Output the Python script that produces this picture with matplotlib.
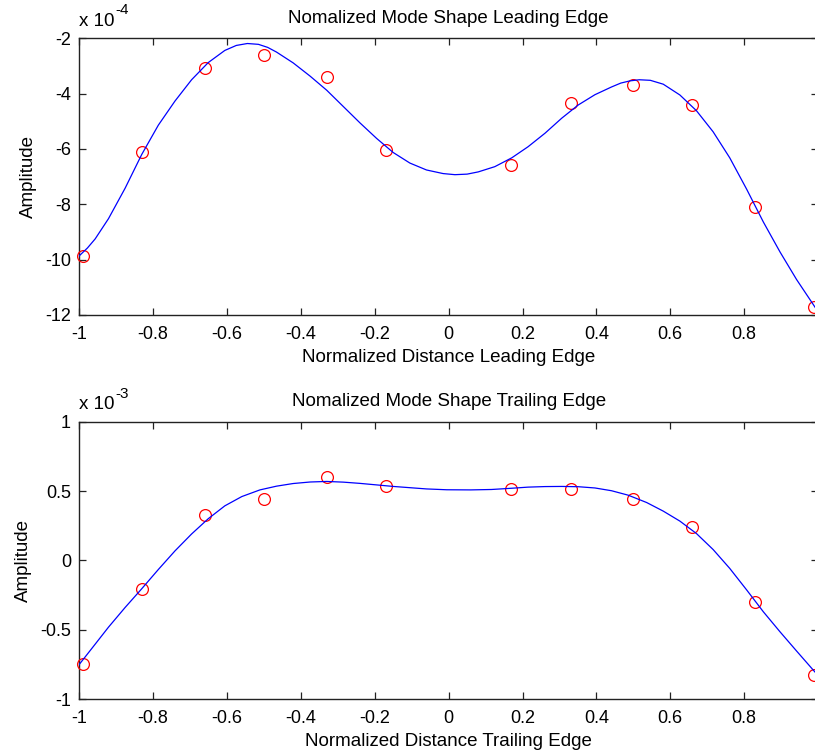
import numpy as np
import matplotlib
matplotlib.use("Agg")
import matplotlib.pyplot as plt
from matplotlib.ticker import FuncFormatter

plt.rcParams["font.family"] = ["Liberation Sans", "DejaVu Sans"]
plt.rcParams["axes.unicode_minus"] = False

# measured nodes (normalized position along the edge)
node_x = [-0.99, -0.83, -0.66, -0.5, -0.33, -0.17, 0.17, 0.33, 0.5, 0.66, 0.83, 0.99]

# leading edge amplitudes, x 1e-4
lead_amp = [-9.87, -6.12, -3.08, -2.60, -3.40, -6.05, -6.57, -4.35, -3.70, -4.41, -8.09, -11.72]
# trailing edge amplitudes, x 1e-3
trail_amp = [-0.748, -0.209, 0.324, 0.442, 0.601, 0.536, 0.516, 0.516, 0.440, 0.238, -0.303, -0.825]

# fitted mode shape curves
lead_fit_x = [-1.0, -0.978, -0.957, -0.921, -0.876, -0.831, -0.786, -0.741, -0.696, -0.651,
              -0.606, -0.575, -0.545, -0.515, -0.49, -0.466, -0.421, -0.375, -0.330, -0.285,
              -0.240, -0.195, -0.150, -0.105, -0.060, -0.015, 0.017, 0.050, 0.080, 0.125,
              0.171, 0.215, 0.261, 0.306, 0.351, 0.396, 0.441, 0.466, 0.491, 0.516,
              0.546, 0.581, 0.626, 0.671, 0.716, 0.761, 0.807, 0.852, 0.897, 0.942,
              0.987, 1.0]
lead_fit = [-9.86, -9.58, -9.25, -8.52, -7.42, -6.20, -5.14, -4.27, -3.50, -2.88,
            -2.44, -2.26, -2.19, -2.22, -2.33, -2.50, -2.89, -3.37, -3.88, -4.47,
            -5.06, -5.62, -6.13, -6.51, -6.76, -6.89, -6.93, -6.91, -6.83, -6.64,
            -6.32, -5.92, -5.43, -4.89, -4.41, -4.04, -3.76, -3.62, -3.54, -3.50,
            -3.52, -3.66, -4.05, -4.62, -5.38, -6.32, -7.46, -8.64, -9.72, -10.72,
            -11.62, -11.88]

trail_fit_x = [-1.0, -0.966, -0.921, -0.876, -0.831, -0.786, -0.741, -0.696, -0.651, -0.606,
               -0.560, -0.511, -0.466, -0.421, -0.375, -0.330, -0.285, -0.240, -0.195, -0.150,
               -0.105, -0.060, -0.005, 0.060, 0.116, 0.171, 0.215, 0.261, 0.306, 0.351,
               0.396, 0.441, 0.486, 0.536, 0.581, 0.626, 0.671, 0.716, 0.761, 0.807,
               0.852, 0.897, 0.942, 0.987, 1.0]
trail_fit = [-0.750, -0.635, -0.482, -0.340, -0.205, -0.066, 0.068, 0.190, 0.300, 0.393,
             0.460, 0.508, 0.535, 0.554, 0.565, 0.569, 0.564, 0.555, 0.544, 0.533,
             0.524, 0.515, 0.509, 0.508, 0.511, 0.520, 0.528, 0.532, 0.533, 0.531,
             0.522, 0.502, 0.470, 0.417, 0.355, 0.283, 0.193, 0.078, -0.058, -0.214,
             -0.371, -0.515, -0.654, -0.791, -0.830]

x_ticks = [-1, -0.8, -0.6, -0.4, -0.2, 0, 0.2, 0.4, 0.6, 0.8]

panels = [
    dict(amp=lead_amp, fx=lead_fit_x, fy=lead_fit, scale=1e-4, exp="-4",
         yticks=[-2, -4, -6, -8, -10, -12], ylim=(-12, -2),
         title="Nomalized Mode Shape Leading Edge",
         xlabel="Normalized Distance Leading Edge",
         pos=[0.0973, 0.5817, 0.9064, 0.3675]),
    dict(amp=trail_amp, fx=trail_fit_x, fy=trail_fit, scale=1e-3, exp="-3",
         yticks=[-1, -0.5, 0, 0.5, 1], ylim=(-1, 1),
         title="Nomalized Mode Shape Trailing Edge",
         xlabel="Normalized Distance Trailing Edge",
         pos=[0.0973, 0.0717, 0.9064, 0.3683]),
]


def fmt(v, _):
    s = "%g" % round(v, 6)
    return "0" if s == "-0" else s


fig = plt.figure(figsize=(8.15, 7.53), dpi=100)

for p in panels:
    ax = fig.add_axes(p["pos"])
    sc = p["scale"]
    ax.plot(node_x, np.array(p["amp"]) * sc, "o", mfc="none", mec="red",
            ms=8.5, mew=0.9, clip_on=False, zorder=3)
    ax.plot(p["fx"], np.array(p["fy"]) * sc, "-", color="#0000ff", lw=0.9, zorder=4)

    ax.set_xlim(-1, 1)
    ax.set_ylim(p["ylim"][0] * sc, p["ylim"][1] * sc)
    ax.set_xticks(x_ticks)
    ax.set_yticks(np.array(p["yticks"]) * sc)
    ax.xaxis.set_major_formatter(FuncFormatter(fmt))
    ax.yaxis.set_major_formatter(FuncFormatter(lambda v, _, sc=sc: fmt(v / sc, _)))
    ax.tick_params(direction="in", top=True, right=True, length=5, width=0.9,
                   labelsize=13, colors="#222222", labelcolor="black")
    ax.tick_params(axis="x", pad=8)
    ax.tick_params(axis="y", pad=6)
    for s in ax.spines.values():
        s.set_linewidth(1.0)
        s.set_color("#222222")

    ax.set_title(p["title"], fontsize=13.5, pad=11)
    ax.set_xlabel(p["xlabel"], fontsize=13.5, labelpad=4)
    ax.set_ylabel("Amplitude", fontsize=13.5, labelpad=6)

    # scale factor above the y axis: "x 10" with a raised exponent
    base = ax.text(0.0, 1.03, "x 10", transform=ax.transAxes,
                   fontsize=13.5, ha="left", va="bottom")
    ax.annotate(p["exp"], xy=(1, 1), xycoords=base, xytext=(0.5, 2),
                textcoords="offset points", fontsize=11, ha="left", va="center")

fig.savefig("out.png", dpi=100)
